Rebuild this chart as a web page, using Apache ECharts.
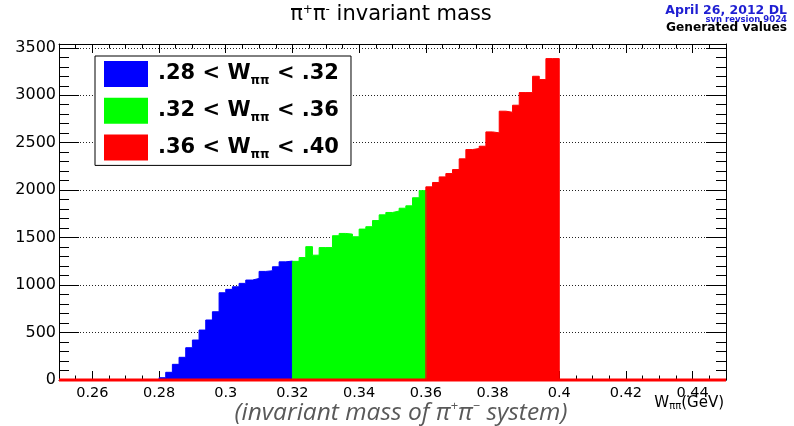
<!DOCTYPE html>
<html>
<head>
<meta charset="utf-8">
<script src="https://cdn.jsdelivr.net/npm/echarts@6/dist/echarts.min.js"></script>
<style>
  html, body { margin: 0; padding: 0; background: #ffffff; }
  #chart { width: 794px; height: 426px; }
</style>
</head>
<body>
<div id="chart"></div>
<script>
// π+π− invariant mass histogram, 2 MeV bins, split into three W ranges
const binWidth = 0.002;
const rangeLow = [0.28, 0.32, 0.36];
const rangeLabels = ['.28 < Wππ < .32', '.32 < Wππ < .36', '.36 < Wππ < .40'];
const rangeColors = ['#0000ff', '#00ff00', '#ff0000'];

const blueCounts = [24, 81, 165, 239, 340, 421, 526, 632, 719, 919,
                    955, 982, 1018, 1053, 1070, 1144, 1151, 1193, 1245, 1253];
const greenCounts = [1250, 1290, 1405, 1315, 1395, 1395, 1520, 1544, 1537, 1509,
                     1590, 1615, 1680, 1740, 1765, 1780, 1810, 1835, 1920, 1995];
const redCounts = [2035, 2081, 2140, 2175, 2217, 2330, 2428, 2439, 2463, 2614,
                   2604, 2832, 2821, 2895, 3028, 3028, 3200, 3165, 3386, 3386];

const xRange = [0.25, 0.45];
const yMax = 3540;
const xTickLabels = [0.26, 0.28, 0.30, 0.32, 0.34, 0.36, 0.38, 0.40, 0.42, 0.44];
const yTickLabels = [0, 500, 1000, 1500, 2000, 2500, 3000, 3500];

const FONT = 'DejaVu Sans';

// Outline points of a histogram drawn as a filled step line
function stepPoints(low, counts) {
  const pts = [[low, 0]];
  counts.forEach((c, i) => pts.push([+(low + (i + 1) * binWidth).toFixed(4), c]));
  pts.push([+(low + counts.length * binWidth).toFixed(4), 0]);
  return pts;
}

const histSeries = [blueCounts, greenCounts, redCounts].map((counts, k) => ({
  name: rangeLabels[k],
  type: 'line',
  step: 'start',
  symbol: 'none',
  silent: true,
  data: stepPoints(rangeLow[k], counts),
  color: rangeColors[k],
  itemStyle: { color: rangeColors[k] },
  lineStyle: { color: rangeColors[k], width: 1 },
  areaStyle: { color: rangeColors[k], opacity: 1 },
  z: 2
}));

// red outline of the last histogram along zero
histSeries.push({
  name: 'baseline',
  type: 'line',
  symbol: 'none',
  silent: true,
  clip: false,
  data: [[xRange[0], 0], [xRange[1], 0]],
  lineStyle: { color: '#ff0000', width: 3 },
  z: 3
});

function frameX(position, major) {
  const ax = {
    type: 'value', min: xRange[0], max: xRange[1], position: position,
    axisLine: { show: major, onZero: false, lineStyle: { color: '#000', width: 1 } },
    axisTick: { show: true, inside: true, length: major ? 9 : 4.5, lineStyle: { color: '#000', width: 1 } },
    axisLabel: { show: false },
    splitLine: { show: false }
  };
  if (major) {
    ax.axisTick.customValues = xTickLabels;
  } else {
    ax.interval = 0.005;
  }
  return ax;
}

function frameY(position, major) {
  return {
    type: 'value', min: 0, max: yMax, interval: major ? 500 : 100, position: position,
    axisLine: { show: major, onZero: false, lineStyle: { color: '#000', width: 1 } },
    axisTick: { show: true, inside: true, length: major ? 20 : 10, lineStyle: { color: '#000', width: 1 } },
    axisLabel: { show: false },
    splitLine: { show: false }
  };
}

const xBottom = frameX('bottom', true);
xBottom.axisLabel = {
  show: true, customValues: xTickLabels, margin: 6, color: '#000',
  fontFamily: FONT, fontSize: 14.5,
  formatter: v => String(+(+v).toFixed(2))
};

const yLeft = frameY('left', true);
yLeft.axisTick.customValues = yTickLabels;
yLeft.axisLabel = {
  show: true, customValues: yTickLabels, margin: 3, color: '#000',
  fontFamily: FONT, fontSize: 16,
  formatter: v => (v % 500 === 0 ? String(v) : '')
};
yLeft.splitLine = { show: true, lineStyle: { color: '#222', width: 1, type: [1, 2] } };

const yRight = frameY('right', true);
yRight.axisTick.customValues = yTickLabels;

const supStyle = (size, extra) => Object.assign({ fontFamily: FONT, fontSize: size, lineHeight: size, verticalAlign: 'top' }, extra);

const option = {
  animation: false,
  backgroundColor: '#ffffff',
  textStyle: { fontFamily: FONT },
  grid: { left: 59, top: 44, width: 667, height: 336, outerBoundsMode: 'none', containLabel: false },
  xAxis: [xBottom, frameX('bottom', false), frameX('top', true), frameX('top', false)],
  yAxis: [yLeft, frameY('left', false), yRight, frameY('right', false)],
  legend: {
    data: rangeLabels,
    orient: 'vertical',
    left: 95, top: 56,
    itemWidth: 44, itemHeight: 26, itemGap: 10.7,
    padding: [5, 12, 5, 9],
    borderColor: '#000', borderWidth: 1, backgroundColor: '#ffffff',
    icon: 'rect',
    selectedMode: false,
    itemStyle: { borderWidth: 0 },
    textStyle: {
      color: '#000', fontFamily: FONT, fontWeight: 'bold', fontSize: 21,
      rich: {
        p: { color: '#000', fontFamily: FONT, fontWeight: 'bold', fontSize: 21, lineHeight: 26, padding: [0, 0, 0, 5] },
        b: { color: '#000', fontFamily: FONT, fontWeight: 'bold', fontSize: 21, lineHeight: 26 },
        s: { color: '#000', fontFamily: FONT, fontWeight: 'bold', fontSize: 12, lineHeight: 12, verticalAlign: 'bottom' }
      }
    },
    formatter: name => {
      const parts = name.split(' < Wππ < ');
      return '{p|' + parts[0] + ' < W}{s|ππ}{b| < ' + parts[1] + '}';
    }
  },
  graphic: [
    {
      type: 'text', x: 391, y: 15, silent: true,
      style: {
        text: '{m|π}{u|+}{m|π}{u|-}{m| invariant mass}',
        align: 'center', verticalAlign: 'middle',
        rich: {
          m: { fontFamily: FONT, fontSize: 21, lineHeight: 23, fill: '#000' },
          u: supStyle(12, { fill: '#000' })
        }
      }
    },
    {
      type: 'text', x: 787, y: 11, silent: true,
      style: { text: 'April 26, 2012 DL', align: 'right', verticalAlign: 'middle',
               fill: '#1e1ed2', fontFamily: FONT, fontWeight: 'bold', fontSize: 12.5 }
    },
    {
      type: 'text', x: 787, y: 19.5, silent: true,
      style: { text: 'svn revsion 9024', align: 'right', verticalAlign: 'middle',
               fill: '#1e1ed2', fontFamily: FONT, fontWeight: 'bold', fontSize: 8.5 }
    },
    {
      type: 'text', x: 787, y: 28, silent: true,
      style: { text: 'Generated values', align: 'right', verticalAlign: 'middle',
               fill: '#000', fontFamily: FONT, fontWeight: 'bold', fontSize: 12.2 }
    },
    {
      // x axis title, right-aligned under the axis end
      type: 'text', x: 724, y: 403, silent: true,
      style: {
        text: '{w|W}{s|ππ}{w|(GeV)}',
        align: 'right', verticalAlign: 'middle',
        rich: {
          w: { fontFamily: FONT, fontSize: 15, lineHeight: 16, fill: '#000' },
          s: { fontFamily: FONT, fontSize: 10, lineHeight: 10, fill: '#000', verticalAlign: 'bottom' }
        }
      }
    },
    {
      type: 'text', x: 401, y: 413, silent: true,
      style: {
        text: '{i|(invariant mass of π}{u|+}{i|π}{u|−}{i| system)}',
        align: 'center', verticalAlign: 'middle',
        rich: {
          i: { fontFamily: 'Open Sans', fontStyle: 'italic', fontSize: 24.5, lineHeight: 26, fill: '#595959' },
          u: { fontFamily: 'Open Sans', fontStyle: 'italic', fontSize: 13, lineHeight: 13, verticalAlign: 'top', fill: '#595959' }
        }
      }
    }
  ],
  series: histSeries
};

const chart = echarts.init(document.getElementById('chart'), null, { renderer: 'canvas' });
chart.setOption(option);
</script>
</body>
</html>
